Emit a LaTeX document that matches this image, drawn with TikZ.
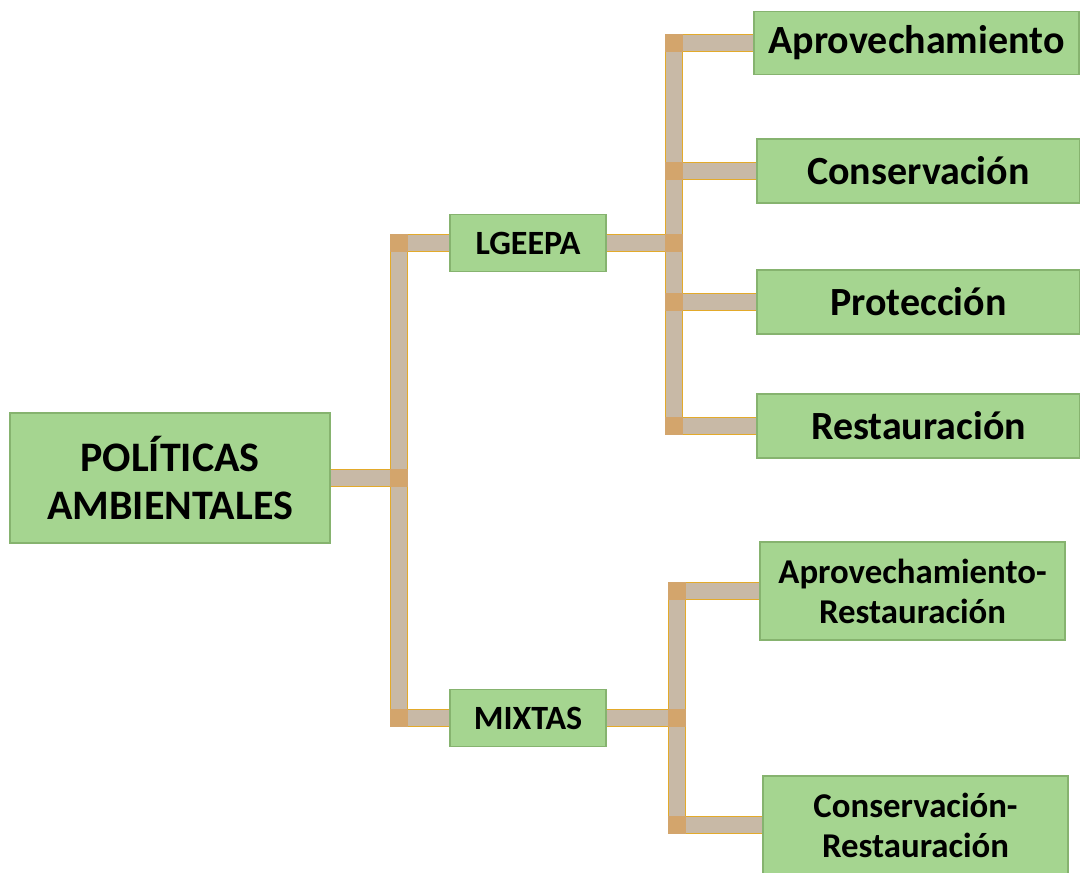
\documentclass[tikz,border=0pt]{standalone}
\usepackage{fontspec}
\setmainfont{Carlito}
\usepackage{xcolor}
\usetikzlibrary{calc}
\definecolor{verde}{HTML}{A5D590}
\definecolor{bordeverde}{HTML}{86B36F}
\definecolor{cbarra}{HTML}{C8B9A6}
\definecolor{bordebarra}{HTML}{E3AA2A}
\definecolor{cunion}{HTML}{D3A56C}
\newcommand{\tam}[1]{\fontsize{#1}{1.15\dimexpr #1pt\relax}\selectfont}
\tikzset{caja/.style={fill=verde,draw=bordeverde,line width=0.6pt,align=center,inner sep=0pt,font=\bfseries\tam{#1}},caja/.default=20}
\tikzset{barra/.style={draw=#1,line width=0.5pt,double=cbarra,double distance=8pt},barra/.default=bordebarra}
\tikzset{union/.style={fill=#1},union/.default=cunion}

\begin{document}
\begin{tikzpicture}[x=0.5pt,y=-0.5pt]

	\useasboundingbox (0,0) rectangle (1080,872);

	% La raiz "POLITICAS AMBIENTALES"
	\node [caja=21, minimum width=160pt, minimum height=65pt] (politicas) at (170,478)
		{POLÍTICAS\\AMBIENTALES};

	% Las dos ramas
	\node [caja=17, minimum width=78pt, minimum height=28.5pt] (lgeepa) at (528,243) {LGEEPA};
	\node [caja=17, minimum width=78pt, minimum height=28.5pt] (mixtas) at (528,718) {MIXTAS};

	% Las hojas de LGEEPA
	\node [caja, minimum width=162.5pt, minimum height=31.5pt] (aprov)   at (916.5,43)  {Aprovechamiento};
	\node [caja, minimum width=161.5pt, minimum height=32pt]   (conserv) at (918.5,171) {Conservación};
	\node [caja, minimum width=161.5pt, minimum height=32pt]   (protec)  at (918.5,302) {Protección};
	\node [caja, minimum width=161.5pt, minimum height=32pt]   (restau)  at (918.5,426) {Restauración};

	% Las hojas de MIXTAS
	\node [caja=17.4, minimum width=152.5pt, minimum height=49pt] (aprest)   at (912.5,591)
		{Aprovechamiento-\\Restauración};
	\node [caja=17.4, minimum width=152.5pt, minimum height=49pt] (consrest) at (915.5,825)
		{Conservación-\\Restauración};

	% Los puntos de quiebre
	\coordinate (j1) at ($(politicas.east) + (68,0)$);
	\coordinate (j2) at ($(lgeepa.east) + (67,0)$);
	\coordinate (j3) at ($(mixtas.east) + (70,0)$);

	% Las barras de conexion
	\draw [barra] (politicas.east) -- (j1) |- (lgeepa.west);
	\draw [barra] (politicas.east) -- (j1) |- (mixtas.west);
	\foreach \h in {aprov,conserv,protec,restau}
		\draw [barra] (lgeepa.east) -- (j2) |- (\h.west);
	\foreach \h in {aprest,consrest}
		\draw [barra] (mixtas.east) -- (j3) |- (\h.west);

	% Los cuadros de union
	\foreach \p in {j1, j1|-lgeepa.west, j1|-mixtas.west,
	                j2, j2|-aprov.west, j2|-conserv.west, j2|-protec.west, j2|-restau.west,
	                j3, j3|-aprest.west, j3|-consrest.west}
		\fill [union] ($(\p) + (-4.5pt,-4.5pt)$) rectangle ($(\p) + (4.5pt,4.5pt)$);

\end{tikzpicture}
\end{document}
